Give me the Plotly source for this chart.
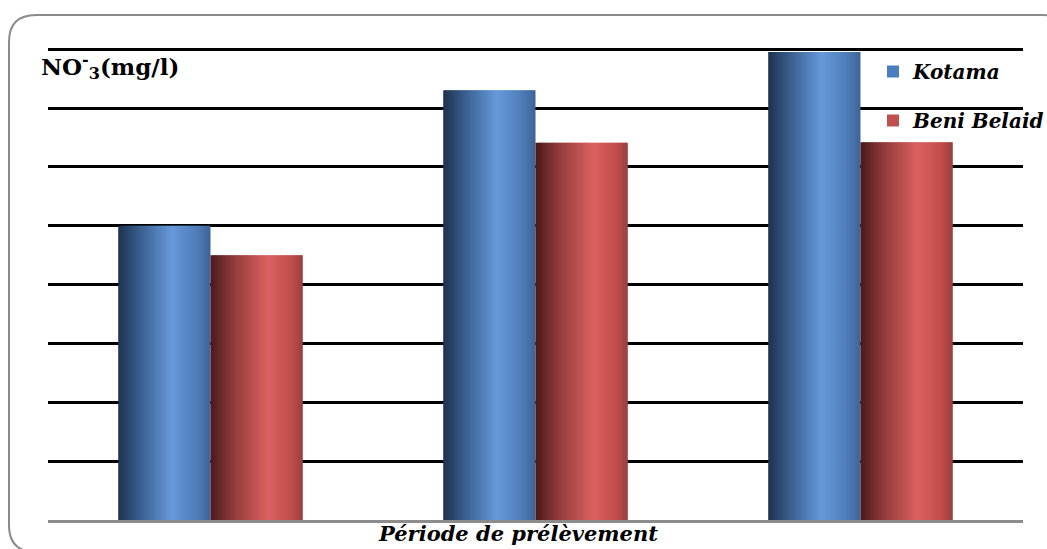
import plotly.graph_objects as go

# Nitrate concentrations (mg/l) per sampling period
periods = ["Période 1", "Période 2", "Période 3"]
kotama = [25.0, 36.5, 39.75]
beni_belaid = [22.5, 32.05, 32.1]
grid_values = [5, 10, 15, 20, 25, 30, 35, 40]

W, H = 1047, 549
ML, MR, MT, MB = 48, 24, 48, 29
PW, PH = W - ML - MR, H - MT - MB
Y_TOP = 40.1

SERIF = "DejaVu Serif"


def px(x):
    return (x - ML) / PW


def py(y):
    return (H - MB - y) / PH


def hex2rgb(h):
    h = h.lstrip("#")
    return tuple(int(h[i:i + 2], 16) for i in (0, 2, 4))


def ramp(stops, t):
    for (t0, c0), (t1, c1) in zip(stops, stops[1:]):
        if t0 <= t <= t1:
            f = (t - t0) / (t1 - t0)
            a, b = hex2rgb(c0), hex2rgb(c1)
            r = [round(a[k] + (b[k] - a[k]) * f) for k in range(3)]
            return f"rgb({r[0]},{r[1]},{r[2]})"
    return stops[-1][1]


blue_stops = [(0, "#1E324E"), (0.25, "#3B6192"), (0.58, "#6699DA"),
              (0.85, "#4F7DB8"), (1, "#3F6496")]
red_stops = [(0, "#4A1A1A"), (0.25, "#913B3B"), (0.62, "#DA615F"),
             (0.87, "#C24E4C"), (1, "#9A3E3E")]

BAR_W = 0.284
N = 40
step = BAR_W / N

fig = go.Figure()

# shaded cylinder-like bars built from thin vertical strips
for values, stops, base in [(kotama, blue_stops, -BAR_W), (beni_belaid, red_stops, 0.0)]:
    for j in range(N):
        t = (j + 0.5) / N
        last = j == N - 1
        fig.add_trace(go.Bar(
            x=periods, y=values,
            offset=base + j * step,
            width=step if last else step * 1.6,
            marker=dict(color=ramp(stops, t), line=dict(width=0)),
            showlegend=False, hoverinfo="skip",
        ))

# legend entries
for name, color, grp in [("Kotama", "#4A7EBF", "a"), ("Beni Belaid", "#C0504D", "b")]:
    fig.add_trace(go.Bar(
        x=periods, y=[None] * len(periods), name=f"<b><i>{name}</i></b>",
        marker=dict(color=color, line=dict(width=0)),
        legendgroup=grp, showlegend=True,
    ))

# rounded frame around the chart
L, T, R, B, r = 9, 15, 1070, 552, 27
path = (
    f"M {px(L + r)},{py(T)} L {px(R - r)},{py(T)} "
    f"Q {px(R)},{py(T)} {px(R)},{py(T + r)} "
    f"L {px(R)},{py(B - r)} Q {px(R)},{py(B)} {px(R - r)},{py(B)} "
    f"L {px(L + r)},{py(B)} Q {px(L)},{py(B)} {px(L)},{py(B - r)} "
    f"L {px(L)},{py(T + r)} Q {px(L)},{py(T)} {px(L + r)},{py(T)} Z"
)

fig.update_layout(
    width=W, height=H,
    margin=dict(l=ML, r=MR, t=MT, b=MB, autoexpand=False),
    paper_bgcolor="white", plot_bgcolor="white",
    barmode="overlay",
    font=dict(family=SERIF, color="black"),
    xaxis=dict(showticklabels=False, ticks="", showgrid=False, zeroline=False,
               showline=True, linecolor="#8C8C8C", linewidth=2.5,
               range=[-0.5, 2.5]),
    yaxis=dict(range=[0, Y_TOP], tickvals=grid_values, showticklabels=False,
               ticks="", showgrid=True, gridcolor="black", gridwidth=2.5,
               zeroline=False, showline=False),
    legend=dict(x=px(873), y=py(52), xanchor="left", yanchor="top",
                bgcolor="rgba(0,0,0,0)",
                font=dict(family=SERIF, size=20, color="black"),
                traceorder="grouped", tracegroupgap=20, itemwidth=30),
    shapes=[dict(type="path", path=path, xref="paper", yref="paper",
                 line=dict(color="#8A8A8A", width=2), layer="below")],
    annotations=[
        dict(text="<b>NO<sup>-</sup><sub>3</sub>(mg/l)</b>", x=px(39), y=py(66),
             xref="paper", yref="paper", xanchor="left", yanchor="middle",
             showarrow=False, font=dict(family=SERIF, size=23, color="black")),
        dict(text="<b><i>Période de prélèvement</i></b>", x=px(518), y=py(533),
             xref="paper", yref="paper", xanchor="center", yanchor="middle",
             showarrow=False, font=dict(family=SERIF, size=21, color="black")),
    ],
    hovermode=False,
)

fig.write_html("out.html")
